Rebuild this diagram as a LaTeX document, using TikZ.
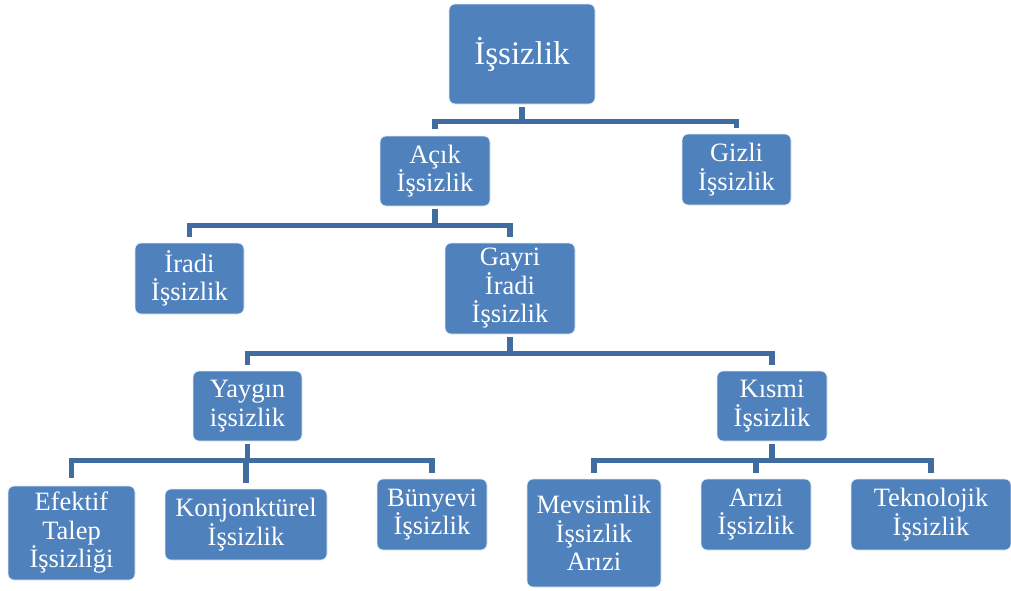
\documentclass[tikz,border=0pt]{standalone}
\usepackage{fontspec}
\setmainfont{Liberation Serif}
\usepackage{tikz}

\definecolor{boxblue}{RGB}{79,129,189}
\definecolor{lineblue}{RGB}{65,108,160}

\begin{document}
\begin{tikzpicture}[x=1pt, y=-1pt,
    kutu/.style={rectangle, rounded corners=6pt, fill=boxblue, draw=white!85!boxblue, line width=0.8pt,
      text=white, align=center, inner sep=2pt, font=\fontsize{26.5}{28.5}\selectfont},
    conn/.style={draw=lineblue, line width=5.5pt}]
          \useasboundingbox (0,0) rectangle (1011,590);
          \node [kutu, minimum width=146pt, minimum height=100pt, font=\fontsize{33}{36}\selectfont] (root) at (522, 54) {İşsizlik};
          \node [kutu, minimum width=110pt, minimum height=70pt] (acik) at (435, 171) {Açık\\İşsizlik};
          \node [kutu, minimum width=109pt, minimum height=71pt] (gizli) at (736.5, 169.5) {Gizli\\İşsizlik};
          \node [kutu, minimum width=109pt, minimum height=71pt] (iradi) at (189.5, 278.5) {İradi\\İşsizlik};
          \node [kutu, minimum width=130pt, minimum height=91pt] (gayri) at (510, 288.5) {Gayri\\İradi\\İşsizlik};
          \node [kutu, minimum width=109pt, minimum height=70pt] (yaygin) at (247.5, 406) {Yaygın\\işsizlik};
          \node [kutu, minimum width=110pt, minimum height=70pt] (kismi) at (772, 406) {Kısmi\\İşsizlik};
          \node [kutu, minimum width=127pt, minimum height=94pt] (efektif) at (71.5, 533) {Efektif\\Talep\\İşsizliği};
          \node [kutu, minimum width=162pt, minimum height=71pt] (konj) at (246, 524.5) {Konjonktürel\\İşsizlik};
          \node [kutu, minimum width=110pt, minimum height=71pt] (bunyevi) at (432, 514.5) {Bünyevi\\İşsizlik};
          \node [kutu, minimum width=134pt, minimum height=108pt] (mevsim) at (594, 533) {Mevsimlik\\İşsizlik\\Arızi};
          \node [kutu, minimum width=110pt, minimum height=71pt] (arizi) at (756, 514.5) {Arızi\\İşsizlik};
          \node [kutu, minimum width=160pt, minimum height=71pt] (tekno) at (931, 514.5) {Teknolojik\\İşsizlik};
          \draw [conn] ([yshift=-3pt]root.south) -- ++(0,14) coordinate (j1);
          \draw [conn] ([yshift=7pt]acik.north) |- (j1) -| ([yshift=6pt]gizli.north);
          \draw [conn] ([yshift=-3pt]acik.south) -- ++(0,16) coordinate (j2);
          \draw [conn] ([yshift=6pt]iradi.north) |- (j2) -| ([yshift=6pt]gayri.north);
          \draw [conn] ([yshift=-3pt]gayri.south) -- ++(0,16) coordinate (j3);
          \draw [conn] ([yshift=6pt]yaygin.north) |- (j3) -| ([yshift=6pt]kismi.north);
          \draw [conn] ([yshift=-3pt]yaygin.south) -- ++(0,16) coordinate (j4);
          \draw [conn] ([yshift=8pt]efektif.north) |- (j4) -| ([yshift=6pt]bunyevi.north);
          \draw [conn] ([yshift=6pt]konj.north) -- (konj.north |- j4);
          \draw [conn] ([yshift=-3pt]kismi.south) -- ++(0,16) coordinate (j5);
          \draw [conn] ([yshift=6pt]mevsim.north) |- (j5) -| ([yshift=6pt]tekno.north);
          \draw [conn] ([yshift=6pt]arizi.north) -- (arizi.north |- j5);
        \end{tikzpicture}
\end{document}
